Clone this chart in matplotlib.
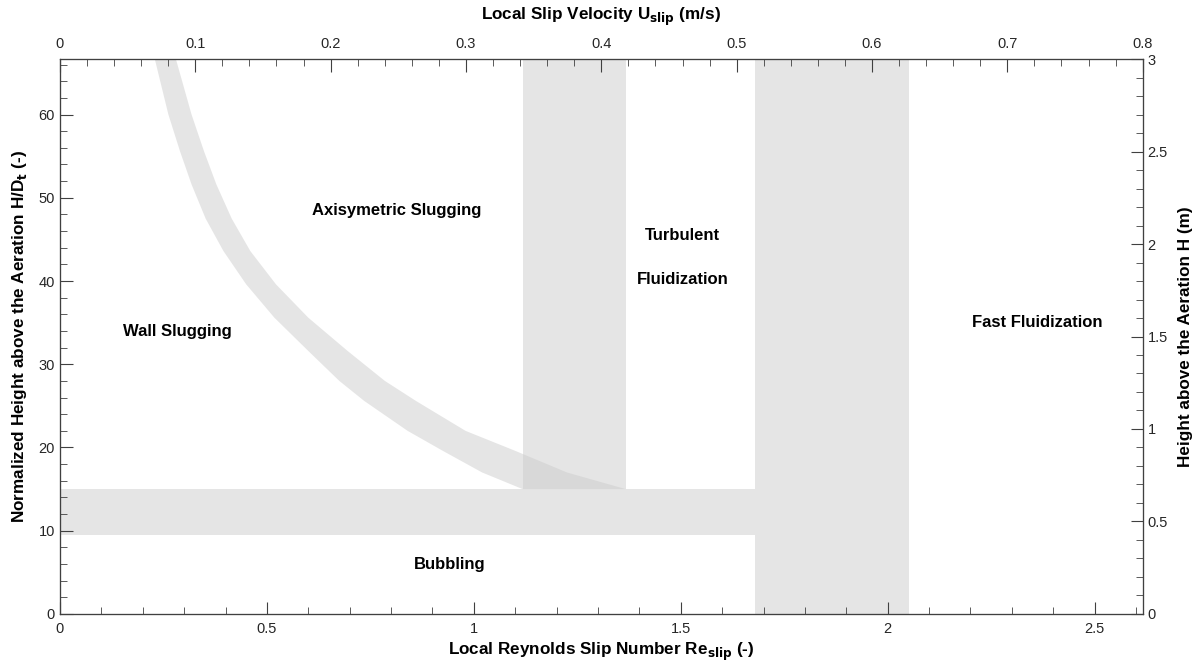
import numpy as np
import matplotlib
matplotlib.use('Agg')
import matplotlib.pyplot as plt
from matplotlib.ticker import MultipleLocator, FormatStrFormatter

plt.rcParams['font.family'] = ['Liberation Sans', 'DejaVu Sans']

# regime boundaries (Re_slip, H/Dt)
curve_y = [66.7, 60.0, 55.6, 51.6, 47.5, 43.6, 39.6, 35.6, 31.6, 28.0, 25.6, 22.0, 19.6, 17.0, 15.0]
curve_left = [0.229, 0.262, 0.290, 0.318, 0.352, 0.395, 0.450, 0.518, 0.600, 0.675,
              0.735, 0.840, 0.925, 1.020, 1.118]
curve_right = [0.280, 0.318, 0.348, 0.378, 0.415, 0.460, 0.522, 0.600, 0.695, 0.785,
               0.860, 0.980, 1.100, 1.225, 1.367]

turb_band = [1.118, 1.367]      # turbulent onset band (Re)
fast_band = [1.679, 2.051]      # fast fluidization band (Re)
bubble_band = [9.5, 15.0]       # slugging onset band (H/Dt)

labels = ['Wall Slugging', 'Axisymetric Slugging', 'Turbulent', 'Fluidization',
          'Fast Fluidization', 'Bubbling']
label_x = [0.283, 0.814, 1.505, 1.505, 2.362, 0.942]
label_y = [33.9, 48.5, 45.5, 40.2, 35.0, 5.9]

re_max = 2.616
h_max = 66.67
u_max = 0.8
hm_max = 3.0

fc = '#cccccc'
a = 0.5

fig = plt.figure(figsize=(11.99, 6.67), dpi=100)
ax = fig.add_axes([0.050, 0.0795, 0.903, 0.832])

# curve band
px = curve_left + curve_right[::-1]
py = curve_y + curve_y[::-1]
ax.fill(px, py, color=fc, alpha=a, lw=0)
# vertical bands
ax.fill_between(turb_band, bubble_band[1], h_max, color=fc, alpha=a, lw=0)
ax.fill_between(fast_band, 0, h_max, color=fc, alpha=a, lw=0)
# horizontal band
ax.fill_between([0, fast_band[0]], bubble_band[0], bubble_band[1], color=fc, alpha=a, lw=0)

for t, x, y in zip(labels, label_x, label_y):
    ax.text(x, y, t, ha='center', va='center', fontsize=12, fontweight='bold')

ax.set_xlim(0, re_max)
ax.set_ylim(0, h_max)
ax.xaxis.set_major_locator(MultipleLocator(0.5))
ax.xaxis.set_minor_locator(MultipleLocator(0.1))
ax.yaxis.set_major_locator(MultipleLocator(10))
ax.yaxis.set_minor_locator(MultipleLocator(2))
ax.set_xlabel('Local Reynolds Slip Number Re$_{\\mathbf{slip}}$ (-)', fontsize=12.3, fontweight='bold', labelpad=3)
ax.set_ylabel('Normalized Height above the Aeration H/D$_{\\mathbf{t}}$ (-)', fontsize=12.3, fontweight='bold', labelpad=7)

ax2 = ax.twiny()
ax2.set_xlim(0, u_max)
ax2.xaxis.set_major_locator(MultipleLocator(0.1))
ax2.xaxis.set_minor_locator(MultipleLocator(0.02))
ax2.set_xlabel('Local Slip Velocity U$_{\\mathbf{slip}}$ (m/s)', fontsize=12.3, fontweight='bold', labelpad=12)

ax3 = ax.twinx()
ax3.set_ylim(0, hm_max)
ax3.yaxis.set_major_locator(MultipleLocator(0.5))
ax3.yaxis.set_minor_locator(MultipleLocator(0.1))
ax3.set_ylabel('Height above the Aeration H (m)', fontsize=12.3, fontweight='bold', labelpad=7)

for axx in (ax, ax2, ax3):
    for s in axx.spines.values():
        s.set_color('#404040')
        s.set_linewidth(0.8)
    axx.tick_params(which='both', direction='in', colors='#404040', labelcolor='#262626', labelsize=10.5)
    axx.tick_params(which='major', length=9)
    axx.tick_params(which='minor', length=5)

ax.tick_params(top=False, right=False)
ax.tick_params(axis='x', pad=6)
ax2.tick_params(axis='x', which='both', top=True, bottom=False, pad=6)
ax3.tick_params(axis='y', which='both', right=True, left=False)

ax.xaxis.set_major_formatter(FormatStrFormatter('%g'))
ax.yaxis.set_major_formatter(FormatStrFormatter('%g'))
ax2.xaxis.set_major_formatter(FormatStrFormatter('%g'))
ax3.yaxis.set_major_formatter(FormatStrFormatter('%g'))

fig.savefig('out.png', dpi=100)
